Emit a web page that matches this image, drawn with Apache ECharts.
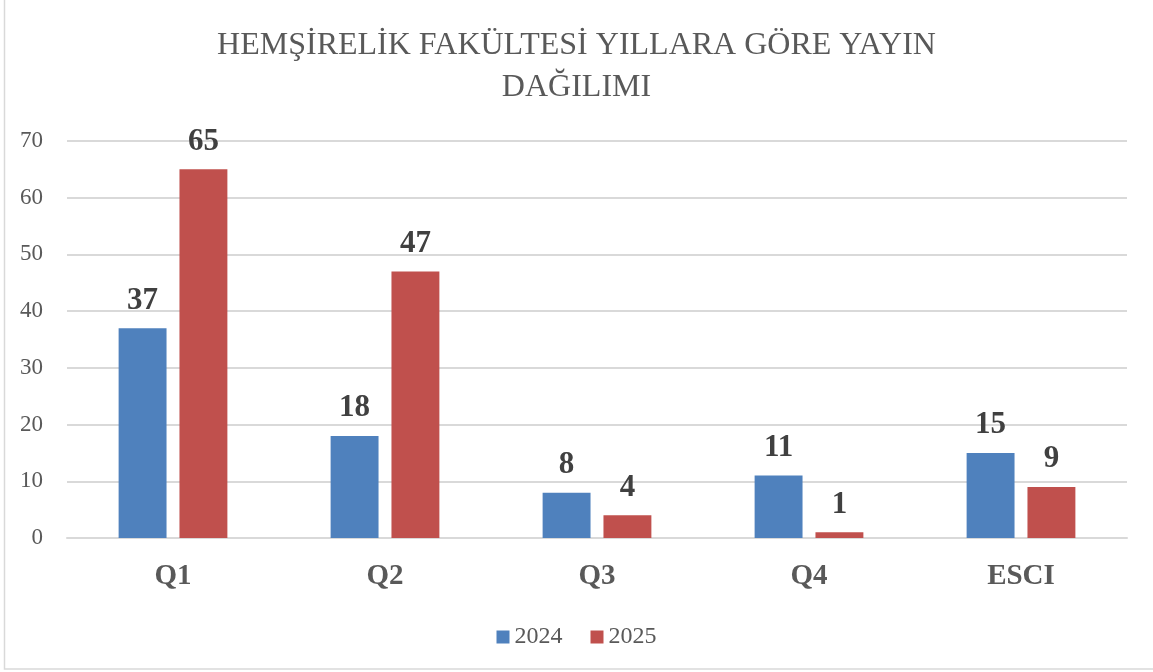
<!DOCTYPE html>
<html lang="tr">
<head>
    <meta charset="utf-8">
    <title>Yayın Dağılımı</title>
    <script src="https://cdn.jsdelivr.net/npm/echarts@6/dist/echarts.min.js"></script>
</head>
<body style="margin:0; background:#fff;">
<div id="main" style="width: 1153px; height: 672px;"></div>
<script type="text/javascript">
    // veriler
    const categories = ['Q1', 'Q2', 'Q3', 'Q4', 'ESCI'];
    const seriesNames = ['2024', '2025'];
    const values2024 = [37, 18, 8, 11, 15];
    const values2025 = [65, 47, 4, 1, 9];

    const serif = '"Liberation Serif", "DejaVu Serif", serif';
    const labelStyle = {
        show: true,
        position: 'top',
        distance: 12,
        fontFamily: serif,
        fontWeight: 'bold',
        fontSize: 31,
        color: '#404040'
    };

    let myChart = echarts.init(document.getElementById('main'));
    const option = {
        animation: false,
        color: ['#4f81bd', '#c0504d'],
        title: {
            text: 'HEMŞİRELİK FAKÜLTESİ YILLARA GÖRE YAYIN\nDAĞILIMI',
            left: 'center',
            top: 20,
            textStyle: {
                fontFamily: serif,
                fontWeight: 'normal',
                fontSize: 32,
                lineHeight: 42,
                color: '#595959'
            }
        },
        legend: {
            data: seriesNames,
            bottom: 18,
            left: 'center',
            icon: 'rect',
            itemWidth: 13,
            itemHeight: 13,
            itemGap: 28,
            textStyle: { fontFamily: serif, fontSize: 24, color: '#595959' }
        },
        grid: { left: 67, right: 26, top: 141, bottom: 134 },
        xAxis: {
            type: 'category',
            data: categories,
            axisLine: { lineStyle: { color: '#d9d9d9', width: 2 } },
            axisTick: { show: false },
            axisLabel: {
                margin: 24,
                fontFamily: serif,
                fontWeight: 'bold',
                fontSize: 29,
                color: '#595959'
            }
        },
        yAxis: {
            type: 'value',
            min: 0,
            max: 70,
            interval: 10,
            axisLine: { show: false },
            axisTick: { show: false },
            splitLine: { lineStyle: { color: '#d9d9d9', width: 2 } },
            axisLabel: {
                margin: 24,
                fontFamily: serif,
                fontSize: 23,
                color: '#595959'
            }
        },
        series: [{
            name: seriesNames[0],
            type: 'bar',
            data: values2024,
            barWidth: '22.6%',
            barGap: '27%',
            label: labelStyle
        }, {
            name: seriesNames[1],
            type: 'bar',
            data: values2025,
            barWidth: '22.6%',
            label: labelStyle
        }],
        graphic: [{
            type: 'rect',
            silent: true,
            shape: { x: 4.5, y: -2, width: 1160, height: 671 },
            style: { fill: 'none', stroke: '#d9d9d9', lineWidth: 1.5 }
        }]
    };
    myChart.setOption(option);
</script>
</body>
</html>
